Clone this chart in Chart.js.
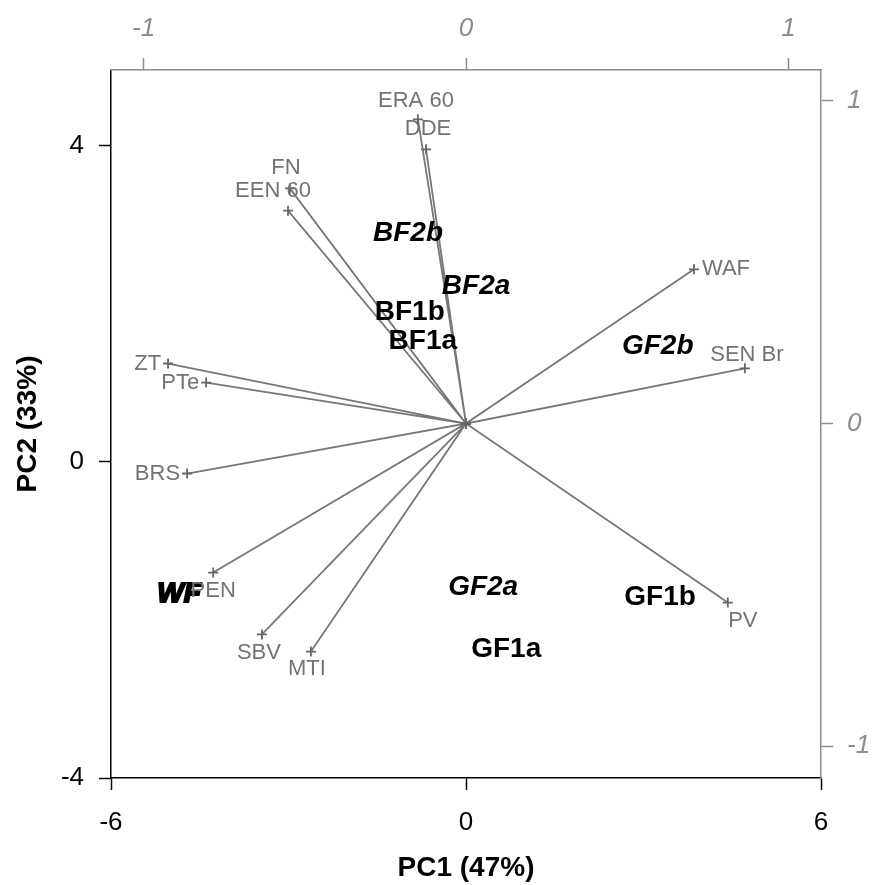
<!DOCTYPE html>
<html>
<head>
<meta charset="utf-8">
<title>PCA biplot</title>
<script src="https://cdn.jsdelivr.net/npm/chart.js@4.4.1/dist/chart.umd.min.js"></script>
<style>
    html, body { margin: 0; padding: 0; background: #fff; }
    #wrap { width: 874px; height: 885px; }
</style>
</head>
<body>
<div id="wrap"><canvas id="biplot" width="874" height="885"></canvas></div>
<script>
// ============================================
// DATA
// ============================================

// sample scores on PC1 / PC2 (bottom + left axes)
const scoreLabels = ['BF2b', 'BF2a', 'BF1b', 'BF1a', 'GF2b', 'WF', 'GF2a', 'GF1b', 'GF1a'];
const scoreX = [-0.98, 0.17, -0.95, -0.73, 3.24, -4.85, 0.29, 3.28, 0.68];
const scoreY = [2.89, 2.23, 1.89, 1.53, 1.46, -1.68, -1.59, -1.71, -2.37];
const scoreItalic = [true, true, false, false, true, true, true, false, false];

// variable loadings (top + right axes)
const loadingLabels = ['ERA 60', 'DDE', 'FN', 'EEN 60', 'ZT', 'PTe', 'BRS', 'PEN', 'SBV', 'MTI', 'WAF', 'SEN Br', 'PV'];
const loadingX = [-0.149, -0.124, -0.546, -0.552, -0.924, -0.806, -0.865, -0.784, -0.633, -0.481, 0.707, 0.865, 0.812];
const loadingY = [0.943, 0.850, 0.729, 0.660, 0.186, 0.127, -0.155, -0.462, -0.654, -0.707, 0.478, 0.171, -0.555];

// tick labels
const pcTicksX = [-6, 0, 6];
const pcTicksY = [-4, 0, 4];
const loadingTicks = [-1, 0, 1];

// ============================================
// STYLE
// ============================================

const FONT = '"Liberation Sans", Arial, sans-serif';
const GREY_LINE = '#777';
const GREY_TEXT = '#737373';
const GREY_AXIS = '#8c8c8c';

// where each variable name sits relative to its "+"
const loadingLabelPlacement = {
    'ERA 60': { align: 'center', dx: -2, dy: -18 },
    'DDE':    { align: 'center', dx: 2, dy: -20 },
    'FN':     { align: 'center', dx: -4, dy: -20 },
    'EEN 60': { align: 'center', dx: -15, dy: -20 },
    'ZT':     { align: 'right', dx: -7, dy: 0 },
    'PTe':    { align: 'right', dx: -7, dy: 0 },
    'BRS':    { align: 'right', dx: -7, dy: 0 },
    'PEN':    { align: 'center', dx: 0, dy: 18 },
    'SBV':    { align: 'center', dx: -3, dy: 18 },
    'MTI':    { align: 'center', dx: -4, dy: 17 },
    'WAF':    { align: 'left', dx: 8, dy: 0 },
    'SEN Br': { align: 'center', dx: 2, dy: -13 },
    'PV':     { align: 'center', dx: 15, dy: 18 }
};

// ============================================
// LABEL PLUGIN
// ============================================

const biplotLabels = {
    id: 'biplotLabels',
    afterDatasetsDraw(chart) {
        const { ctx, scales } = chart;
        ctx.save();
        ctx.textBaseline = 'middle';

        // sample names
        scoreLabels.forEach((label, i) => {
            const px = scales.x.getPixelForValue(scoreX[i]);
            const py = scales.y.getPixelForValue(scoreY[i]);
            ctx.font = (scoreItalic[i] ? 'italic ' : '') + 'bold 28px ' + FONT;
            ctx.textAlign = 'center';
            ctx.fillStyle = '#000';
            ctx.fillText(label, px, py);
            if (label === 'WF') {
                ctx.strokeStyle = '#000';
                ctx.lineWidth = 2;
                ctx.strokeText(label, px, py);
            }
        });

        // variable names
        ctx.font = '22px ' + FONT;
        ctx.fillStyle = GREY_TEXT;
        loadingLabels.forEach((label, i) => {
            const p = loadingLabelPlacement[label];
            const px = scales.x2.getPixelForValue(loadingX[i]);
            const py = scales.y2.getPixelForValue(loadingY[i]);
            ctx.textAlign = p.align;
            ctx.fillText(label, px + p.dx, py + p.dy);
        });

        ctx.restore();
    }
};

// ============================================
// CHART
// ============================================

function fixedTicks(values) {
    return scale => { scale.ticks = values.map(v => ({ value: v })); };
}

function axis(opts) {
    const color = opts.color;
    return {
        type: 'linear',
        position: opts.position,
        min: opts.min,
        max: opts.max,
        afterBuildTicks: fixedTicks(opts.ticks),
        afterFit: scale => {
            if (scale.isHorizontal()) scale.height = opts.size;
            else scale.width = opts.size;
        },
        grid: {
            drawOnChartArea: false,
            drawTicks: true,
            tickLength: 12,
            tickWidth: 1.5,
            tickColor: color
        },
        border: { display: true, color: color, width: 1.5 },
        ticks: {
            color: opts.textColor,
            autoSkip: false,
            maxRotation: 0,
            padding: opts.padding,
            font: { family: FONT, size: 26, style: opts.italic ? 'italic' : 'normal' }
        },
        title: opts.title ? {
            display: true,
            text: opts.title,
            color: '#000',
            font: { family: FONT, size: 28, weight: 'bold' },
            padding: opts.titlePadding
        } : { display: false }
    };
}

function buildVectorData() {
    const pts = [];
    loadingLabels.forEach((label, i) => {
        pts.push({ x: 0, y: 0 });
        pts.push({ x: loadingX[i], y: loadingY[i] });
    });
    return pts;
}

const ctx = document.getElementById('biplot').getContext('2d');

new Chart(ctx, {
    type: 'scatter',
    data: {
        datasets: [
            {
                label: 'scores',
                data: scoreLabels.map((l, i) => ({ x: scoreX[i], y: scoreY[i] })),
                xAxisID: 'x',
                yAxisID: 'y',
                pointRadius: 0
            },
            {
                label: 'loadings',
                data: buildVectorData(),
                xAxisID: 'x2',
                yAxisID: 'y2',
                showLine: true,
                borderColor: GREY_LINE,
                borderWidth: 1.8,
                pointStyle: 'cross',
                pointRadius: 5,
                pointBorderColor: '#666',
                pointBorderWidth: 1.8
            }
        ]
    },
    options: {
        responsive: false,
        animation: false,
        events: [],
        layout: { padding: 0 },
        plugins: {
            legend: { display: false },
            tooltip: { enabled: false }
        },
        scales: {
            x: axis({
                position: 'bottom', min: -6, max: 6, ticks: pcTicksX, size: 107,
                color: '#000', textColor: '#000', padding: 17,
                title: 'PC1 (47%)', titlePadding: { top: 0, bottom: 0 }
            }),
            y: axis({
                position: 'left', min: -4, max: 4.962, ticks: pcTicksY, size: 111,
                color: '#000', textColor: '#000', padding: 15,
                title: 'PC2 (33%)', titlePadding: { top: 11, bottom: 0 }
            }),
            x2: axis({
                position: 'top', min: -1.101, max: 1.101, ticks: loadingTicks, size: 70,
                color: GREY_AXIS, textColor: GREY_AXIS, padding: 14, italic: true
            }),
            y2: axis({
                position: 'right', min: -1.099, max: 1.096, ticks: loadingTicks, size: 53,
                color: GREY_AXIS, textColor: GREY_AXIS, padding: 14, italic: true
            })
        }
    },
    plugins: [biplotLabels]
});
</script>
</body>
</html>
